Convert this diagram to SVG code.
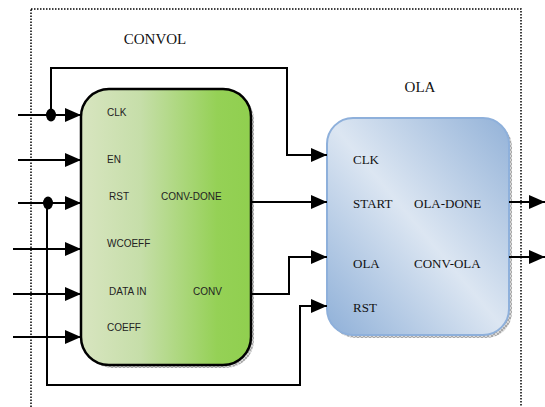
<svg xmlns="http://www.w3.org/2000/svg" width="545" height="407" viewBox="0 0 545 407">
  <defs>
    <linearGradient id="gradConvol" x1="0" y1="0" x2="1" y2="0">
      <stop offset="0" stop-color="#d8e5c0"/>
      <stop offset="0.35" stop-color="#c6dea9"/>
      <stop offset="0.8" stop-color="#95d156"/>
      <stop offset="1" stop-color="#90cf4f"/>
    </linearGradient>
    <linearGradient id="gradOla" x1="0" y1="1" x2="1" y2="0">
      <stop offset="0" stop-color="#8fb0d8"/>
      <stop offset="0.5" stop-color="#dce6f2"/>
      <stop offset="1" stop-color="#93b2d8"/>
    </linearGradient>
    <pattern id="hatch" width="4" height="4" patternUnits="userSpaceOnUse">
      <rect width="4" height="4" fill="#d8d8d8"/>
      <path d="M0 0 L4 4 M4 0 L0 4" stroke="#8a8a8a" stroke-width="0.6"/>
    </pattern>
    <marker id="arrow" viewBox="0 0 16 14" refX="16" refY="7" markerWidth="16" markerHeight="14" markerUnits="userSpaceOnUse" orient="auto">
      <path d="M0 0 L16 7 L0 14 Z" fill="#000"/>
    </marker>
  </defs>
  <style>
    .wire { fill: none; stroke: #000; stroke-width: 2; }
    .port { font-family: "Liberation Sans", Arial, sans-serif; font-size: 10px; fill: #222; }
    .oport { font-family: "Liberation Serif", "Times New Roman", serif; font-size: 13px; fill: #111; }
    .title { font-family: "Liberation Serif", "Times New Roman", serif; font-size: 15px; fill: #111; }
    .dot { fill: #000; }
  </style>

  <!-- enclosing system boundary -->
  <rect x="31" y="9" width="490" height="420" fill="none" stroke="#000" stroke-width="1.5" stroke-dasharray="1.5 1.5"/>

  <text class="title" x="155" y="44" text-anchor="middle">CONVOL</text>
  <text class="title" x="420" y="92" text-anchor="middle">OLA</text>

  <!-- convolution block -->
  <g id="convol">
    <rect x="84" y="92" width="170" height="276" rx="28" fill="url(#hatch)"/>
    <rect x="81" y="89" width="170" height="276" rx="28" fill="url(#gradConvol)" stroke="#000" stroke-width="2.5"/>
    <text class="port" x="107" y="116">CLK</text>
    <text class="port" x="107" y="163">EN</text>
    <text class="port" x="109" y="200">RST</text>
    <text class="port" x="161" y="200">CONV-DONE</text>
    <text class="port" x="107" y="247">WCOEFF</text>
    <text class="port" x="109" y="295">DATA IN</text>
    <text class="port" x="193" y="295">CONV</text>
    <text class="port" x="107" y="331">COEFF</text>
  </g>

  <!-- overlap-add block -->
  <g id="ola">
    <rect x="330" y="121" width="182" height="217" rx="26" fill="url(#hatch)"/>
    <rect x="327" y="118" width="182" height="217" rx="26" fill="url(#gradOla)" stroke="#8eb0db" stroke-width="2"/>
    <text class="oport" x="353" y="164">CLK</text>
    <text class="oport" x="353" y="208">START</text>
    <text class="oport" x="414" y="208">OLA-DONE</text>
    <text class="oport" x="353" y="268">OLA</text>
    <text class="oport" x="414" y="268">CONV-OLA</text>
    <text class="oport" x="353" y="312">RST</text>
  </g>

  <!-- connections -->
  <g id="connectors">
    <line class="wire" x1="18" y1="115" x2="81" y2="115" marker-end="url(#arrow)"/>
    <line class="wire" x1="18" y1="160" x2="81" y2="160" marker-end="url(#arrow)"/>
    <line class="wire" x1="18" y1="203" x2="81" y2="203" marker-end="url(#arrow)"/>
    <line class="wire" x1="13" y1="249" x2="81" y2="249" marker-end="url(#arrow)"/>
    <line class="wire" x1="13" y1="294" x2="81" y2="294" marker-end="url(#arrow)"/>
    <line class="wire" x1="13" y1="337" x2="81" y2="337" marker-end="url(#arrow)"/>

    <!-- clock fan-out to OLA -->
    <polyline class="wire" points="51,115 51,68 287,68 287,155 327,155" marker-end="url(#arrow)"/>
    <ellipse class="dot" cx="51" cy="115" rx="5" ry="6.5"/>

    <!-- reset fan-out to OLA -->
    <polyline class="wire" points="47,203 47,385 300,385 300,306 327,306" marker-end="url(#arrow)"/>
    <ellipse class="dot" cx="48" cy="203" rx="5" ry="6.5"/>

    <!-- CONV-DONE to START -->
    <line class="wire" x1="251" y1="202" x2="327" y2="202" marker-end="url(#arrow)"/>
    <!-- CONV to OLA -->
    <polyline class="wire" points="251,294 289,294 289,257 327,257" marker-end="url(#arrow)"/>

    <!-- OLA outputs -->
    <line class="wire" x1="509" y1="202" x2="545" y2="202" marker-end="url(#arrow)"/>
    <line class="wire" x1="509" y1="257" x2="545" y2="257" marker-end="url(#arrow)"/>
  </g>
</svg>
